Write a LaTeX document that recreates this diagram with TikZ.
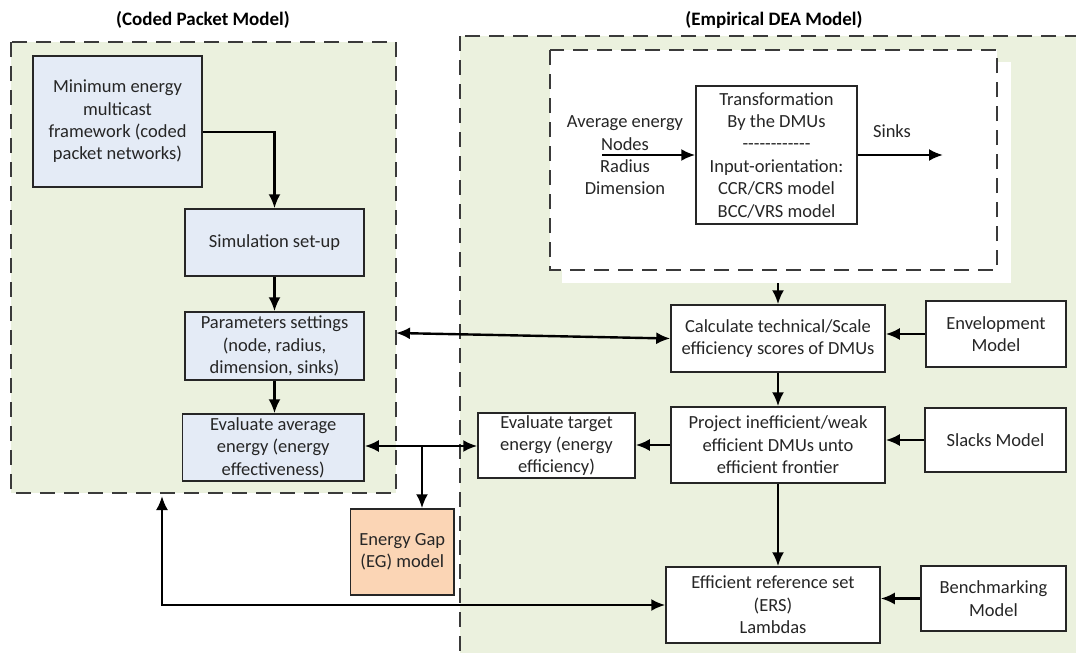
\documentclass[tikz,border=0pt]{standalone}
\usepackage{fontspec}
\setmainfont{Carlito}
\usetikzlibrary{arrows.meta}
\definecolor{grpgreen}{HTML}{EBF1DE}
\definecolor{boxblue}{HTML}{E4EBF6}
\definecolor{gaporange}{HTML}{FBD5B5}
\definecolor{ink}{HTML}{262626}
\definecolor{dashgray}{HTML}{3A3A3A}
\begin{document}
\begin{tikzpicture}[x=1pt,y=-1pt,
  font=\fontsize{18.5}{22.4}\selectfont,
  box/.style={draw=black!85, line width=1.5pt, fill=white, align=center, inner sep=0pt, text=ink},
  bluebox/.style={box, fill=boxblue},
  arr/.style={-{Latex[length=14pt,width=12pt]}, line width=2.4pt},
  darr/.style={{Latex[length=14pt,width=12pt]}-{Latex[length=14pt,width=12pt]}, line width=2.4pt},
  grp/.style={draw=dashgray, line width=2.2pt, dash pattern=on 15pt off 9pt},
  plain/.style={align=center, inner sep=0pt, text=ink},
  grptitle/.style={font=\bfseries\fontsize{19}{23}\selectfont, text=black}]
\clip (0,0) rectangle (1076,653);
\fill[white] (0,0) rectangle (1076,653);

% group frames
\draw[grp, fill=grpgreen] (11,42) rectangle (396,493);
\draw[grp, fill=grpgreen] (460,36) rectangle (1100,690);
\fill[white] (562,62) rectangle (1011,283);
\draw[grp, fill=white] (550,50) rectangle (997,270);

% titles
\node[grptitle] (t1) at (203,20) {(Coded Packet Model)};
\node[grptitle] (t2) at (774,20) {(Empirical DEA Model)};

% coded packet model
\node[bluebox, minimum width=169pt, minimum height=131pt] (minE) at (117.5,121.5)
  {Minimum energy\\multicast\\framework (coded\\packet networks)};
\node[bluebox, minimum width=179pt, minimum height=67pt] (sim) at (274.5,242.5) {Simulation set-up};
\node[bluebox, minimum width=179pt, minimum height=68pt] (params) at (274.5,346)
  {Parameters settings\\(node, radius,\\dimension, sinks)};
\node[bluebox, minimum width=181.5pt, minimum height=67pt] (evalavg) at (273.25,447.5)
  {Evaluate average\\energy (energy\\effectiveness)};
\node[box, fill=gaporange, minimum width=103.5pt, minimum height=86pt] (eg) at (402.25,552)
  {Energy Gap\\(EG) model};

% DEA transformation
\node[box, minimum width=161pt, minimum height=138pt] (trans) at (776.5,155)
  {Transformation\\By the DMUs\\-{}-{}-{}-{}-{}-{}-{}-{}-{}-{}-{}-\\Input-orientation:\\CCR/CRS model\\BCC/VRS model};
\node[plain] (inputs) at (625,155.5) {Average energy\\Nodes\\Radius\\Dimension};
\node[plain] (sinks) at (892,131) {Sinks};
\coordinate (inStart) at (602,155);
\coordinate (outEnd) at (943,155);
\coordinate (dmuOut) at (778,283);

% DEA steps
\node[box, minimum width=157pt, minimum height=65pt] (evaltgt) at (556.5,445.5)
  {Evaluate target\\energy (energy\\efficiency)};
\node[box, minimum width=214pt, minimum height=67pt] (calc) at (778,338.5)
  {Calculate technical/Scale\\efficiency scores of DMUs};
\node[box, minimum width=214pt, minimum height=76pt] (proj) at (778,445)
  {Project inefficient/weak\\efficient DMUs unto\\efficient frontier};
\node[box, minimum width=214pt, minimum height=76pt] (ers) at (773,605)
  {Efficient reference set\\(ERS)\\Lambdas};
\node[box, minimum width=140pt, minimum height=66pt] (env) at (996,334) {Envelopment\\Model};
\node[box, minimum width=141pt, minimum height=64pt] (slacks) at (995.5,440) {Slacks Model};
\node[box, minimum width=145pt, minimum height=65pt] (bench) at (993.5,598.5) {Benchmarking\\Model};

% connectors
\coordinate (leftEdge) at (396,333);
\coordinate (branch) at (422,446);
\coordinate (fbTop) at (162,496);

\draw[arr] (minE.east |- 0,132) -| (sim.north);
\draw[arr] (sim.south) -- (params.north);
\draw[arr] (params.south) -- (evalavg.north -| params.south);
\draw[darr] (leftEdge) -- (calc.west);
\draw[darr] (evalavg.east |- branch) -- (evaltgt.west |- branch);
\draw[arr] (branch) -- (branch |- eg.north);
\draw[arr] (inStart) -- (trans.west);
\draw[arr] (trans.east) -- (outEnd);
\draw[arr] (dmuOut) -- (calc.north);
\draw[arr] (env.west) -- (calc.east |- env.west);
\draw[arr] (calc.south) -- (proj.north);
\draw[arr] (proj.west) -- (evaltgt.east |- proj.west);
\draw[arr] (slacks.west) -- (proj.east |- slacks.west);
\draw[arr] (proj.south) -- (ers.north -| proj.south);
\draw[arr] (bench.west) -- (ers.east |- bench.west);
\draw[darr] (fbTop) |- (ers.west);
\end{tikzpicture}
\end{document}
